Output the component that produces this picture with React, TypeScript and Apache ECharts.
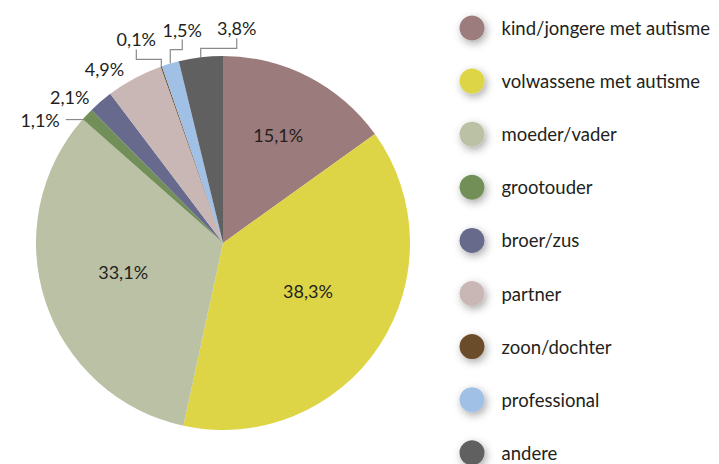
import React, { useEffect, useRef } from "react";
import * as echarts from "echarts";

const categories = [
  "kind/jongere met autisme",
  "volwassene met autisme",
  "moeder/vader",
  "grootouder",
  "broer/zus",
  "partner",
  "zoon/dochter",
  "professional",
  "andere",
];
const values = [15.1, 38.3, 33.1, 1.1, 2.1, 4.9, 0.1, 1.5, 3.8];
const valueLabels = ["15,1%", "38,3%", "33,1%", "1,1%", "2,1%", "4,9%", "0,1%", "1,5%", "3,8%"];
const colors = ["#9c7b7c", "#ddd545", "#bac1a5", "#738f59", "#676a8c", "#c9b7b5", "#6b4b2a", "#a0c0e5", "#606060"];

// label placement styles (not data)
const placement: any[] = [
  { kind: "inside", r: 0.647, da: 0 },
  { kind: "inside", r: 0.522, da: -3.8 },
  { kind: "inside", r: 0.556, da: 2 },
  { kind: "side", dx: -47, dy: 5 },
  { kind: "free", dx: -31, dy: -5 },
  { kind: "free", dx: -30, dy: -9 },
  { kind: "bracket", dx: -25, dy: -27 },
  { kind: "bracket", dx: 12, dy: -34 },
  { kind: "bracket", dx: 36, dy: -29 },
];

const CX = 223;
const CY = 243;
const R = 187;
const FONT = "Lato, 'Noto Sans', sans-serif";
const TEXT = "#231f20";

export default function App() {
  const ref = useRef<HTMLDivElement>(null);
  useEffect(() => {
    if (!ref.current) return;
    const chart = echarts.init(ref.current, undefined, { renderer: "svg" });
    const total = values.reduce((a, b) => a + b, 0);
    const mids: number[] = [];
    let cum = 0;
    values.forEach((v) => {
      mids.push((2 * Math.PI * (cum + v / 2)) / total);
      cum += v;
    });
    const pt = (i: number, r: number, da = 0) => {
      const a = mids[i] + (da * Math.PI) / 180;
      return [CX + r * Math.sin(a), CY - r * Math.cos(a)];
    };

    const data = values.map((v, i) => {
      const p = placement[i];
      const showLine = p.kind === "side" || p.kind === "bracket";
      return {
        name: categories[i],
        value: v,
        itemStyle: { color: colors[i] },
        label: { position: p.kind === "inside" ? "inside" : "outside" },
        labelLine: { show: showLine },
      };
    });

    chart.setOption({
      animation: false,
      legend: {
        orient: "vertical",
        left: 459.5,
        top: 15.5,
        height: 455,
        padding: 0,
        itemWidth: 25,
        itemHeight: 25,
        itemGap: 28.1,
        icon: "circle",
        selectedMode: false,
        itemStyle: {
          shadowBlur: 8,
          shadowColor: "rgba(0,0,0,0.35)",
          shadowOffsetX: 2,
          shadowOffsetY: 3,
        },
        textStyle: {
          fontSize: 18.5,
          fontFamily: FONT,
          color: TEXT,
          padding: [0, 0, 0, 12],
        },
        data: categories,
      },
      series: [
        {
          type: "pie",
          center: [CX, CY],
          radius: R,
          startAngle: 90,
          clockwise: true,
          data,
          label: {
            formatter: (p: any) => valueLabels[p.dataIndex],
            fontSize: 18,
            fontFamily: FONT,
            color: TEXT,
            overflow: "none",
          },
          labelLine: {
            lineStyle: { color: "#8a8a8a", width: 1.2 },
            length: 10,
            length2: 10,
          },
          labelLayout: (params: any) => {
            const i = params.dataIndex;
            const p = placement[i];
            if (p.kind === "inside") {
              const [x, y] = pt(i, R * p.r, p.da);
              return { x, y, align: "center", verticalAlign: "middle" };
            }
            const [ex, ey] = pt(i, R);
            const lx = ex + p.dx;
            const ly = ey + p.dy;
            const res: any = { x: lx, y: ly, align: "center", verticalAlign: "middle" };
            if (p.kind === "side") {
              const halfW = params.labelRect.width / 2;
              res.labelLinePoints = [
                [ex - 2, ly],
                [ex - 10, ly],
                [lx + halfW + 6, ly],
              ];
            } else if (p.kind === "bracket") {
              res.labelLinePoints = [
                [ex, ey],
                [ex, ly + 20],
                [lx, ly + 20],
                [lx, ly + 10],
              ];
            }
            return res;
          },
        },
      ],
    });
    return () => chart.dispose();
  }, []);
  return (
    <div
      ref={ref}
      style={{ position: "fixed", left: 0, top: 0, width: 719, height: 464, background: "#fff" }}
    />
  );
}
